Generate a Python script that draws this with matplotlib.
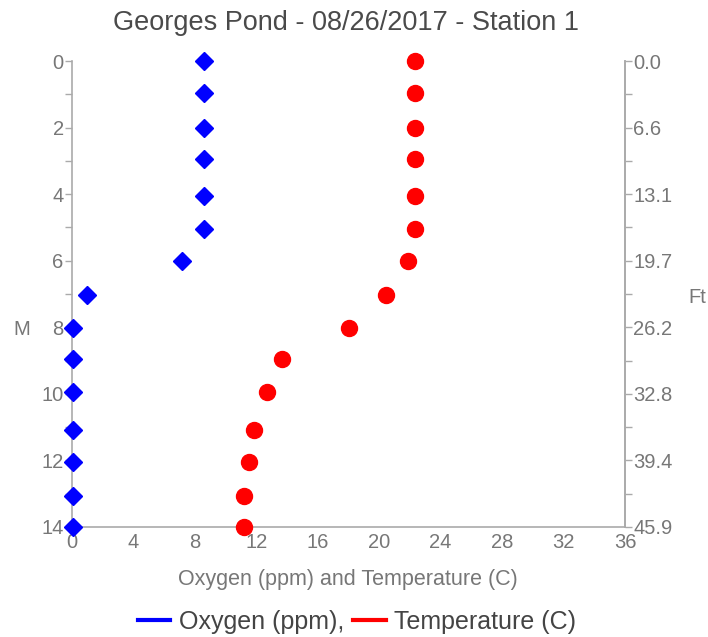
# Dissolved oxygen / temperature profile, Georges Pond station 1
import matplotlib.pyplot as plt
from matplotlib.lines import Line2D

plt.rcParams['font.family'] = ['Liberation Sans', 'DejaVu Sans']

# depth readings (m) and the two measured series
depth_m = [0, 0.97, 2, 2.95, 4.07, 5.05, 6, 7.03, 8.02, 8.95, 9.94, 11.08, 12.05, 13.07, 14]
oxygen = [8.6, 8.6, 8.6, 8.6, 8.6, 8.6, 7.15, 1.0, 0.05, 0.05, 0.05, 0.05, 0.05, 0.05, 0.05]
temperature = [22.3, 22.3, 22.3, 22.3, 22.3, 22.3, 21.9, 20.45, 18.0, 13.7, 12.7, 11.85, 11.5, 11.2, 11.2]

x_ticks = [0, 4, 8, 12, 16, 20, 24, 28, 32, 36]
m_ticks = [0, 2, 4, 6, 8, 10, 12, 14]
m_minor = [1, 3, 5, 7, 9, 11, 13]
M_TO_FT = 3.28084

AXIS_GREY = '#aaaaaa'
LABEL_GREY = '#777777'
TICK_SIZE = 14.5

fig = plt.figure(figsize=(7.08, 6.37), dpi=100)
ax = fig.add_axes([0.1017, 0.1727, 0.7811, 0.7315])

ax.plot(oxygen, depth_m, linestyle='none', marker='D', markersize=9,
        color='#0000ff', clip_on=False, zorder=5)
ax.plot(temperature, depth_m, linestyle='none', marker='o', markersize=11.5,
        color='#ff0000', clip_on=False, zorder=5)

ax.set_xlim(0, 36)
ax.set_ylim(14, 0)
ax.set_xticks(x_ticks)
ax.set_yticks(m_ticks)
ax.set_yticks(m_minor, minor=True)

ax.spines['top'].set_visible(False)
for s in ['left', 'bottom', 'right']:
    ax.spines[s].set_color(AXIS_GREY)
    ax.spines[s].set_linewidth(1.2)

ax.tick_params(axis='x', length=0, pad=4, labelsize=TICK_SIZE, labelcolor=LABEL_GREY)
ax.tick_params(axis='y', which='both', length=5, width=1, color=AXIS_GREY,
               labelsize=TICK_SIZE, labelcolor=LABEL_GREY, pad=1)

# right axis in feet
ax2 = ax.twinx()
ax2.set_ylim(14, 0)
ax2.set_yticks(m_ticks)
ax2.set_yticklabels([f"{m * M_TO_FT:.1f}" for m in m_ticks])
ax2.set_yticks(m_minor, minor=True)
for s in ['top', 'left', 'bottom']:
    ax2.spines[s].set_visible(False)
ax2.spines['right'].set_color(AXIS_GREY)
ax2.spines['right'].set_linewidth(1.2)
ax2.tick_params(axis='y', which='both', length=5, width=1, color=AXIS_GREY,
                labelsize=TICK_SIZE, labelcolor=LABEL_GREY, pad=1)

fig.text(346 / 708, 1 - 23 / 637, "Georges Pond - 08/26/2017 - Station 1",
         ha='center', va='center', fontsize=19.5, color='#4a4a4a')
fig.text(348 / 708, 1 - 580 / 637, "Oxygen (ppm) and Temperature (C)",
         ha='center', va='center', fontsize=15.5, color=LABEL_GREY)
fig.text(22 / 708, 1 - 330 / 637, "M", ha='center', va='center',
         fontsize=TICK_SIZE, color=LABEL_GREY)
fig.text(697 / 708, 1 - 297 / 637, "Ft", ha='center', va='center',
         fontsize=TICK_SIZE, color=LABEL_GREY)

handles = [Line2D([], [], color='#0000ff', lw=3),
           Line2D([], [], color='#ff0000', lw=3)]
fig.legend(handles, ["Oxygen (ppm),", "Temperature (C)"], loc='center',
           bbox_to_anchor=(357 / 708, 1 - 622 / 637), ncol=2, frameon=False,
           fontsize=18, handlelength=1.3, handletextpad=0.35,
           columnspacing=0.35, labelcolor='#444444',
           borderpad=0, borderaxespad=0)

fig.savefig("out.png", dpi=100)
